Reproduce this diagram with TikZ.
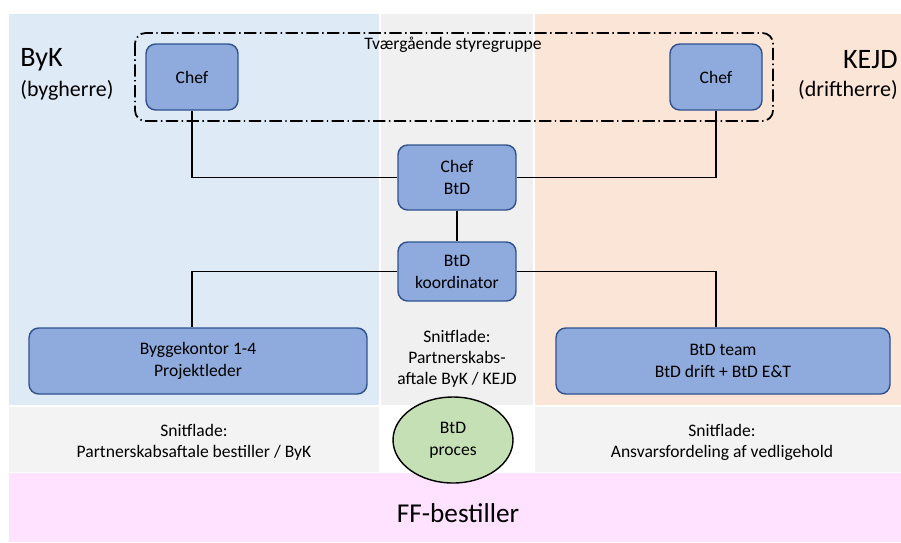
\documentclass[tikz,border=0pt]{standalone}
\usepackage{fontspec}
\setmainfont{Carlito}
\usepackage{tikz}
\usetikzlibrary{shapes.geometric}

\definecolor{byk}{RGB}{222,235,247}
\definecolor{midt}{RGB}{240,240,240}
\definecolor{kejd}{RGB}{251,229,214}
\definecolor{snit}{RGB}{243,243,243}
\definecolor{ffpink}{RGB}{255,226,255}
\definecolor{boksfyld}{RGB}{143,170,220}
\definecolor{boksrand}{RGB}{47,82,143}
\definecolor{procesfyld}{RGB}{197,224,180}

\begin{document}
\begin{tikzpicture}[x=0.02cm, y=-0.02cm, font=\fontsize{10}{12.5}\selectfont]
                \tikzstyle{boks}=[rectangle, rounded corners=5.5pt, draw=boksrand, line width=0.8pt, fill=boksfyld, align=center, inner sep=2pt]
                \tikzstyle{linje}=[line width=0.6pt]
                \tikzstyle{tekst}=[align=center, inner sep=0pt]
                \useasboundingbox (0,0) rectangle (901,542);

                    % Felter
                    \fill[byk] (9,14) rectangle (379,405);
                    \fill[midt] (381,14) rectangle (533,405);
                    \fill[kejd] (535,14) rectangle (901,405);
                    \fill[snit] (9,407) rectangle (379,472);
                    \fill[snit] (535,407) rectangle (901,472);
                    \fill[ffpink] (9,473) rectangle (901,542);

                    % Styregruppe
                    \draw[line width=1pt, rounded corners=6pt, dash pattern=on 7pt off 2pt on 0.8pt off 2pt] (135,33) rectangle (773,121);
                    \node[tekst] (styre) at (453,45) {Tværgående styregruppe};

                    % Nós
                    \node[boks, minimum width=1.84cm, minimum height=1.32cm] (chefbyk) at (192,77) {Chef};
                    \node[boks, minimum width=1.84cm, minimum height=1.32cm] (chefkejd) at (716,77) {Chef};
                    \node[boks, minimum width=2.36cm, minimum height=1.3cm] (chefbtd) at (457,177.5) {Chef\\BtD};
                    \node[boks, minimum width=2.36cm, minimum height=1.18cm] (koord) at (457,271.5) {BtD\\koordinator};
                    \node[boks, minimum width=6.76cm, minimum height=1.32cm] (bygge) at (198,361) {Byggekontor 1-4\\Projektleder};
                    \node[boks, minimum width=6.68cm, minimum height=1.32cm] (team) at (723,361) {BtD team\\BtD drift + BtD E\&T};
                    \node[ellipse, draw, line width=0.8pt, fill=procesfyld, minimum width=2.4cm, minimum height=1.72cm, align=center] (proces) at (453,440) {BtD\\proces};

                    % Arestas
                    \draw[linje] (chefbyk) |- (chefbtd);
                    \draw[linje] (chefkejd) |- (chefbtd);
                    \draw[linje] (chefbtd) -- (koord);
                    \draw[linje] (koord) -| (bygge.north -| chefbyk);
                    \draw[linje] (koord) -| (team.north -| chefkejd);

                    % Tekster
                    \node[anchor=west, inner sep=0pt, font=\fontsize{16}{18}\selectfont] (byk) at (20,60) {ByK};
                    \node[anchor=west, inner sep=0pt, font=\fontsize{12.5}{14}\selectfont] (bygherre) at (20,90) {(bygherre)};
                    \node[anchor=east, inner sep=0pt, font=\fontsize{16}{18}\selectfont] (kejdnavn) at (898,60) {KEJD};
                    \node[anchor=east, inner sep=0pt, font=\fontsize{12.5}{14}\selectfont] (driftherre) at (898,90) {(driftherre)};
                    \node[tekst, font=\fontsize{10}{12}\selectfont] (snitmidt) at (457,359) {Snitflade:\\Partnerskabs-\\aftale ByK / KEJD};
                    \node[tekst, font=\fontsize{10}{12}\selectfont] (snitbyk) at (194,442) {Snitflade:\\Partnerskabsaftale bestiller / ByK};
                    \node[tekst, font=\fontsize{10}{12}\selectfont] (snitkejd) at (722,442) {Snitflade:\\Ansvarsfordeling af vedligehold};
                    \node[tekst, font=\fontsize{15.5}{18}\selectfont] (ff) at (458,513) {FF-bestiller};
            \end{tikzpicture}
\end{document}
